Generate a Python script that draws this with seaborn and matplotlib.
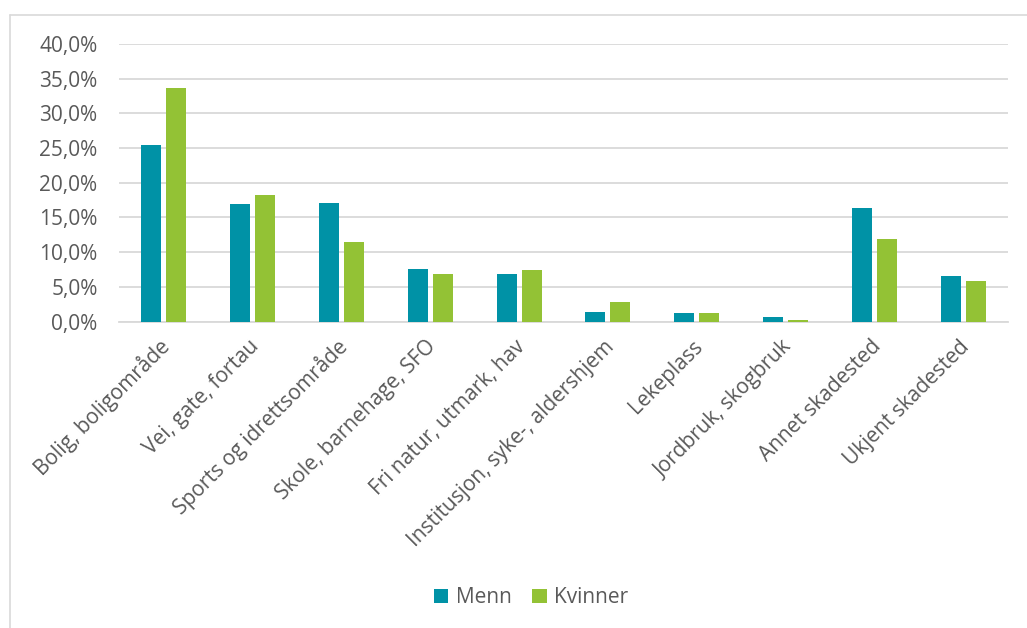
import matplotlib
matplotlib.use("Agg")
import matplotlib.pyplot as plt
from matplotlib.lines import Line2D
from matplotlib.patches import Patch
from matplotlib.ticker import FuncFormatter
from matplotlib.transforms import ScaledTranslation
import pandas as pd
import seaborn as sns

# Skadested fordelt på kjønn (andel av skader)
steder = [
    "Bolig, boligområde",
    "Vei, gate, fortau",
    "Sports og idrettsområde",
    "Skole, barnehage, SFO",
    "Fri natur, utmark, hav",
    "Institusjon, syke-, aldershjem",
    "Lekeplass",
    "Jordbruk, skogbruk",
    "Annet skadested",
    "Ukjent skadested",
]
menn = [25.4, 16.9, 17.1, 7.5, 6.8, 1.4, 1.2, 0.6, 16.3, 6.6]
kvinner = [33.7, 18.2, 11.5, 6.9, 7.4, 2.8, 1.2, 0.2, 11.9, 5.8]
serier = ["Menn", "Kvinner"]
farger = ["#0092A6", "#93C235"]
y_ticks = [0, 5, 10, 15, 20, 25, 30, 35, 40]

df = pd.DataFrame({
    "Skadested": steder * 2,
    "Kjønn": [serier[0]] * len(steder) + [serier[1]] * len(steder),
    "Andel": menn + kvinner,
})

sns.set_theme(style="white")
plt.rcParams["font.family"] = ["Open Sans", "DejaVu Sans"]
tekstfarge = "#595959"
gridfarge = "#D9D9D9"
fontstr = 15

fig = plt.figure(figsize=(10.27, 6.28), dpi=100)
ax = fig.add_axes([0.1159, 0.488, 0.8656, 0.442])

sns.barplot(
    data=df, x="Skadested", y="Andel", hue="Kjønn",
    order=steder, hue_order=serier, palette=farger,
    width=0.5625, gap=0.2, saturation=1, linewidth=0,
    ax=ax, legend=False, zorder=3,
)

ax.set_ylim(0, 40)
ax.set_xlim(-0.5, len(steder) - 0.5)
ax.set_yticks(y_ticks)
ax.yaxis.set_major_formatter(FuncFormatter(lambda v, _: f"{v:.1f}%".replace(".", ",")))
ax.grid(axis="y", color=gridfarge, linewidth=1.3)
ax.set_axisbelow(True)
for side in ["top", "right", "left"]:
    ax.spines[side].set_visible(False)
ax.spines["bottom"].set_color(gridfarge)
ax.spines["bottom"].set_linewidth(1.3)
ax.spines["bottom"].set_zorder(1)
ax.set_xlabel("")
ax.set_ylabel("")
ax.tick_params(axis="y", length=0, pad=15.5, labelsize=fontstr, labelcolor=tekstfarge)
ax.tick_params(axis="x", length=0, pad=16, labelsize=fontstr, labelcolor=tekstfarge)
skyv = ScaledTranslation(3 / 100, 0, fig.dpi_scale_trans)
for lbl in ax.get_xticklabels():
    lbl.set_rotation(45)
    lbl.set_ha("right")
    lbl.set_va("center")
    lbl.set_rotation_mode("anchor")
    lbl.set_transform(lbl.get_transform() + skyv)

handles = [Patch(facecolor=f, edgecolor="none", label=s) for f, s in zip(farger, serier)]
fig.legend(
    handles=handles, loc="center", bbox_to_anchor=(0.517, 0.048), ncol=2,
    frameon=False, handlelength=0.7, handleheight=0.7, handletextpad=0.35,
    columnspacing=1.0, fontsize=fontstr, labelcolor=tekstfarge,
)

# ramme rundt diagramområdet
fig.add_artist(Line2D([10 / 1027, 1.0], [1 - 15 / 628, 1 - 15 / 628],
                      transform=fig.transFigure, color=gridfarge, linewidth=1.2))
fig.add_artist(Line2D([10 / 1027, 10 / 1027], [0.0, 1 - 15 / 628],
                      transform=fig.transFigure, color=gridfarge, linewidth=1.2))

fig.savefig("out.png", dpi=100, facecolor="white")
